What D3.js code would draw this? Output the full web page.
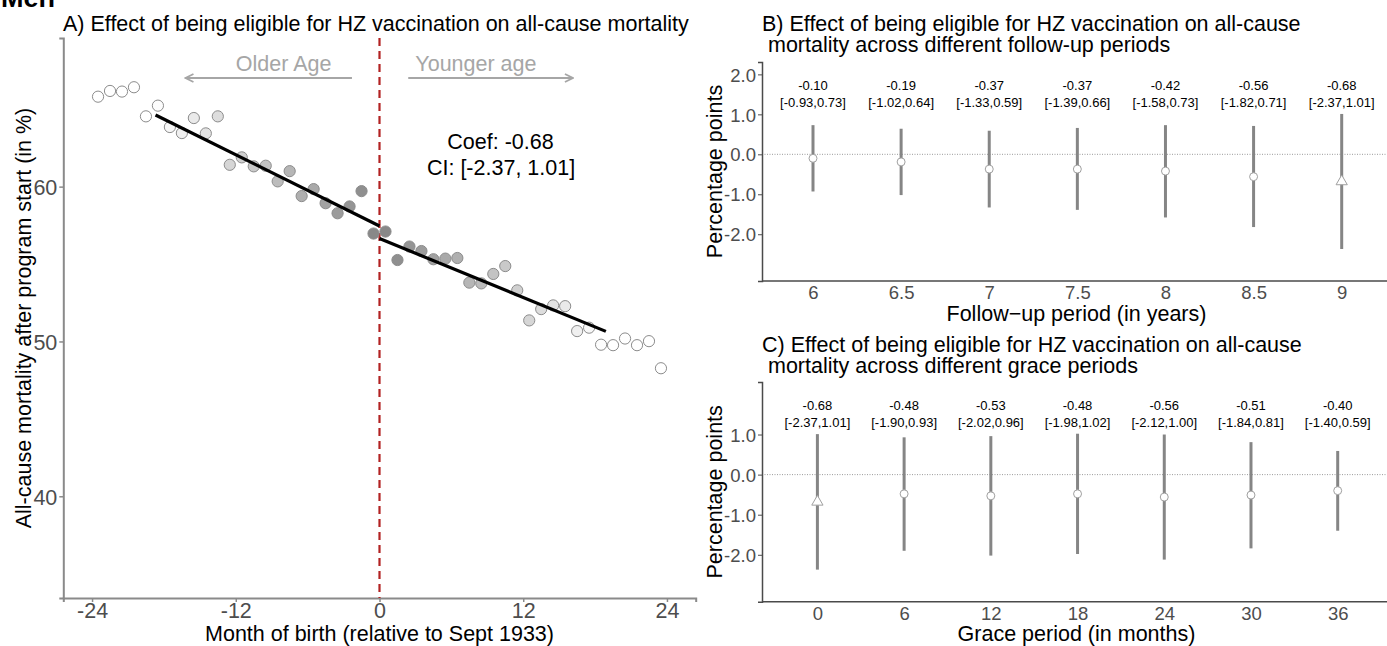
<!DOCTYPE html>
<html><head><meta charset="utf-8">
<script src="https://cdn.jsdelivr.net/npm/d3@7"></script>
<style>
html,body{margin:0;padding:0;background:#fff;}
svg{display:block;font-family:"Liberation Sans",Arial,sans-serif;}
</style></head>
<body><svg id="c" width="1387" height="646"></svg>
<script>
// ---------- Panel A data ----------
const months = [-23.5,-22.5,-21.5,-20.5,-19.5,-18.5,-17.5,-16.5,-15.5,-14.5,-13.5,-12.5,-11.5,-10.5,-9.5,-8.5,-7.5,-6.5,-5.5,-4.5,-3.5,-2.5,-1.5,-0.5,
                0.5,1.5,2.5,3.5,4.5,5.5,6.5,7.5,8.5,9.5,10.5,11.5,12.5,13.5,14.5,15.5,16.5,17.5,18.5,19.5,20.5,21.5,22.5,23.5];
const mortality = [65.81,66.18,66.14,66.42,64.54,65.23,63.85,63.46,64.43,63.44,64.54,61.41,61.89,61.31,61.35,60.34,61.00,59.39,59.84,58.93,58.28,58.72,59.71,56.97,
                   57.10,55.26,56.13,55.84,55.31,55.35,55.39,53.80,53.75,54.36,54.87,53.30,51.36,52.09,52.33,52.28,50.67,50.89,49.79,49.76,50.19,49.76,50.02,48.27];
const fitLeftX = [-18.7, 0], fitLeftY = [64.63, 57.46];
const fitRightX = [0, 18.9], fitRightY = [56.65, 50.65];
const bandwidth = 18.8;
const aXTicks = [-24,-12,0,12,24];
const aYTicks = [40,50,60];
const coefText = "Coef: -0.68", ciText = "CI: [-2.37, 1.01]";

// ---------- Panel B data ----------
const followup = ["6","6.5","7","7.5","8","8.5","9"];
const estB  = [-0.10,-0.19,-0.37,-0.37,-0.42,-0.56,-0.68];
const lowB  = [-0.93,-1.02,-1.33,-1.39,-1.58,-1.82,-2.37];
const highB = [0.73,0.64,0.59,0.66,0.73,0.71,1.01];
const shapeB = ["circle","circle","circle","circle","circle","circle","triangle"];
const bYTicks = [2,1,0,-1,-2];

// ---------- Panel C data ----------
const grace = ["0","6","12","18","24","30","36"];
const estC  = [-0.68,-0.48,-0.53,-0.48,-0.56,-0.51,-0.40];
const lowC  = [-2.37,-1.90,-2.02,-1.98,-2.12,-1.84,-1.40];
const highC = [1.01,0.93,0.96,1.02,1.00,0.81,0.59];
const shapeC = ["triangle","circle","circle","circle","circle","circle","circle"];
const cYTicks = [1,0,-1,-2];

const loc = d3.formatLocale({decimal:".",thousands:",",grouping:[3],currency:["$",""],minus:"-"});
const svg = d3.select("#c");
const F = 21.5;
const TF = 18.5;

// Men title
svg.append("text").attr("x",1).attr("y",7).attr("font-size",27).attr("font-weight","bold").text("Men");

// ================= PANEL A =================
const ax = d3.scaleLinear().domain([-26.4,26.4]).range([63.3,695.7]);
const ay = d3.scaleLinear().domain([33.43,69.6]).range([598,38]);
const A = svg.append("g");
A.append("text").attr("x",63).attr("y",30.5).attr("font-size",F).text("A) Effect of being eligible for HZ vaccination on all-cause mortality");

const axisCol = "#8a8a8a";
const gx = A.append("g").attr("transform",`translate(0,${ay.range()[0]})`)
  .call(d3.axisBottom(ax).tickValues(aXTicks).tickSize(4).tickPadding(1).tickFormat(loc.format("d")));
const gy = A.append("g").attr("transform",`translate(${ax.range()[0]},0)`)
  .call(d3.axisLeft(ay).tickValues(aYTicks).tickSize(4).tickPadding(2).tickFormat(loc.format("d")));
[gx,gy].forEach(g=>{
  g.select(".domain").attr("stroke",axisCol).attr("stroke-width",2);
  g.selectAll(".tick line").attr("stroke",axisCol).attr("stroke-width",1.5);
  g.selectAll(".tick text").attr("fill","#4d4d4d").attr("font-size",F).attr("font-family","Liberation Sans, Arial, sans-serif");
});
gx.selectAll(".tick text").attr("dy","0.71em");
gy.selectAll(".tick text").attr("dy","0.36em");

A.append("text").attr("x",ax(0)).attr("y",641).attr("text-anchor","middle").attr("font-size",F).text("Month of birth (relative to Sept 1933)");
A.append("text").attr("transform",`translate(31,${(ay.range()[0]+ay.range()[1])/2}) rotate(-90)`).attr("text-anchor","middle").attr("font-size",F)
  .text("All-cause mortality after program start (in %)");

// cutoff line
A.append("line").attr("x1",ax(0)).attr("x2",ax(0)).attr("y1",ay.range()[1]).attr("y2",ay.range()[0])
  .attr("stroke","#b22222").attr("stroke-width",2.2).attr("stroke-dasharray","8,5");

// points
const shade = d3.interpolateRgb("#ffffff","#858585");
A.selectAll("circle.pt").data(months.map((m,i)=>({m,v:mortality[i]}))).enter().append("circle")
  .attr("class","pt").attr("cx",d=>ax(d.m)).attr("cy",d=>ay(d.v)).attr("r",5.6)
  .attr("fill",d=>shade(Math.max(0,1-Math.abs(d.m)/bandwidth)))
  .attr("stroke","#8c8c8c").attr("stroke-width",1);

// fit lines
const ln = d3.line().x(d=>ax(d[0])).y(d=>ay(d[1]));
A.append("path").attr("d",ln(fitLeftX.map((x,i)=>[x,fitLeftY[i]]))).attr("stroke","#000").attr("stroke-width",3.2).attr("fill","none");
A.append("path").attr("d",ln(fitRightX.map((x,i)=>[x,fitRightY[i]]))).attr("stroke","#000").attr("stroke-width",3.2).attr("fill","none");

// arrows
const defs = svg.append("defs");
defs.append("marker").attr("id","arr").attr("viewBox","0 0 10 10").attr("refX",9).attr("refY",5)
  .attr("markerWidth",10).attr("markerHeight",10).attr("markerUnits","userSpaceOnUse").attr("orient","auto")
  .append("path").attr("d","M1,1 L9,5 L1,9").attr("fill","none").attr("stroke","#a6a6a6").attr("stroke-width",1.8);
const arrowY = 67.02, labY = 67.47;
A.append("line").attr("x1",ax(-2.3)).attr("x2",ax(-16.2)).attr("y1",ay(arrowY)).attr("y2",ay(arrowY))
  .attr("stroke","#a6a6a6").attr("stroke-width",2).attr("marker-end","url(#arr)");
A.append("line").attr("x1",ax(2.4)).attr("x2",ax(16.15)).attr("y1",ay(arrowY)).attr("y2",ay(arrowY))
  .attr("stroke","#a6a6a6").attr("stroke-width",2).attr("marker-end","url(#arr)");
A.append("text").attr("x",ax(-8.0)).attr("y",ay(labY)).attr("text-anchor","middle").attr("font-size",F).attr("fill","#a6a6a6").text("Older Age");
A.append("text").attr("x",ax(8.05)).attr("y",ay(labY)).attr("text-anchor","middle").attr("font-size",F).attr("fill","#a6a6a6").text("Younger age");
A.append("text").attr("x",ax(10.1)).attr("y",ay(62.43)).attr("text-anchor","middle").attr("font-size",F).text(coefText);
A.append("text").attr("x",ax(10.15)).attr("y",ay(60.74)).attr("text-anchor","middle").attr("font-size",F).text(ciText);

// ================= PANELS B & C =================
function forest(opts){
  const {cats, est, low, high, shapes, yTicks, xr, yr, title1, title2, titleY, xTitle, xTitleY} = opts;
  const g = svg.append("g");
  const x = d3.scalePoint().domain(cats).range(xr);
  const y = d3.scaleLinear().domain([-3.17,2.31]).range(yr);
  const left = 762, right = 1387;
  g.append("text").attr("x",left).attr("y",titleY).attr("font-size",F).text(title1);
  g.append("text").attr("x",left).attr("y",titleY+21.8).attr("font-size",F).attr("xml:space","preserve").text(title2);
  // zero line
  g.append("line").attr("x1",left).attr("x2",right).attr("y1",y(0)).attr("y2",y(0))
    .attr("stroke","#9a9a9a").attr("stroke-width",1).attr("stroke-dasharray","1,1.5");
  // axes
  const ya = g.append("g").attr("transform",`translate(${left},0)`).call(d3.axisLeft(y).tickValues(yTicks).tickSize(4).tickPadding(2).tickFormat(loc.format(".1f")));
  const xa = g.append("g").attr("transform",`translate(0,${yr[0]})`).call(d3.axisBottom(x).tickSize(0).tickPadding(5));
  xa.select(".domain").attr("d",`M${left},0H${right}`);
  [ya,xa].forEach(a=>{
    a.select(".domain").attr("stroke","#4a4a4a").attr("stroke-width",1.5);
    a.selectAll(".tick line").attr("stroke","#4a4a4a");
    a.selectAll(".tick text").attr("fill","#4d4d4d").attr("font-size",TF).attr("font-family","Liberation Sans, Arial, sans-serif");
  });
  ya.selectAll(".tick text").attr("dy","0.36em");
  xa.selectAll(".tick text").attr("dy","0.71em");
  g.append("text").attr("x",(left+right)/2+2).attr("y",xTitleY).attr("text-anchor","middle").attr("font-size",F).text(xTitle);
  g.append("text").attr("transform",`translate(722,${(yr[0]+yr[1])/2}) rotate(-90)`).attr("text-anchor","middle").attr("font-size",F).text("Percentage points");
  const data = cats.map((c,i)=>({c,e:est[i],lo:low[i],hi:high[i],s:shapes[i]}));
  g.selectAll("line.eb").data(data).enter().append("line").attr("class","eb")
    .attr("x1",d=>x(d.c)).attr("x2",d=>x(d.c)).attr("y1",d=>y(d.lo)).attr("y2",d=>y(d.hi))
    .attr("stroke","#858585").attr("stroke-width",3);
  g.selectAll("path.pt").data(data).enter().append("path").attr("class","pt")
    .attr("transform",d=>`translate(${x(d.c)},${y(d.e)})`)
    .attr("d",d=>d3.symbol().type(d.s==="triangle"?d3.symbolTriangle:d3.symbolCircle).size(d.s==="triangle"?55:50)())
    .attr("fill","#fff").attr("stroke","#a0a0a0").attr("stroke-width",1);
  const f2 = loc.format(".2f");
  g.selectAll("text.est").data(data).enter().append("text").attr("class","est")
    .attr("x",d=>x(d.c)).attr("y",y(1.6)).attr("text-anchor","middle").attr("font-size",13).text(d=>f2(d.e));
  g.selectAll("text.ci").data(data).enter().append("text").attr("class","ci")
    .attr("x",d=>x(d.c)).attr("y",y(1.18)).attr("text-anchor","middle").attr("font-size",13).text(d=>`[${f2(d.lo)},${f2(d.hi)}]`);
}
forest({cats:followup, est:estB, low:lowB, high:highB, shapes:shapeB, yTicks:bYTicks,
  xr:[813,1341.7], yr:[281,62], title1:"B) Effect of being eligible for HZ vaccination on all-cause",
  title2:" mortality across different follow-up periods", titleY:30.5, xTitle:"Follow\u2212up period (in years)", xTitleY:321});
forest({cats:grace, est:estC, low:lowC, high:highC, shapes:shapeC, yTicks:cYTicks,
  xr:[817.4,1337.7], yr:[601.7,382], title1:"C) Effect of being eligible for HZ vaccination on all-cause",
  title2:" mortality across different grace periods", titleY:351.5, xTitle:"Grace period (in months)", xTitleY:641});
</script></body></html>
